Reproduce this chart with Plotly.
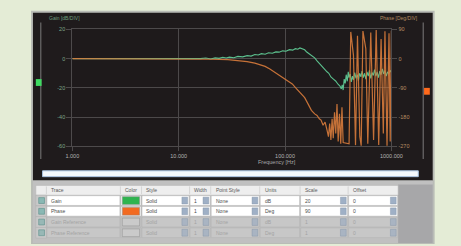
import plotly.graph_objects as go

# ---------------- data ----------------
gain_freq = [1000, 1500, 2000, 3000, 4000, 5000, 6000, 8000, 10000, 12000, 14000, 16000, 18000,
             20000, 22000, 24000, 26000, 28000, 30000, 33000, 36000, 40000, 44000, 48000, 52000,
             56000, 60000, 65000, 70000, 76000, 82000, 88000, 95000, 102000, 110000, 118000,
             125000, 132000, 138000, 145000, 153000, 160000, 170000, 181000, 190000, 200000,
             210000, 222000, 235000, 248000, 258000, 270000, 285000, 299000, 315000, 330000,
             338000, 345000, 352000, 360000, 368000, 376000, 385000, 393000, 400000, 410000,
             420000, 430000, 440000, 452000, 465000, 478000, 490000, 503000, 517000, 530000,
             545000, 560000, 575000, 590000, 606000, 622000, 640000, 658000, 676000, 695000,
             715000, 735000, 756000, 778000, 800000, 823000, 846000, 870000, 895000, 920000,
             946000, 972000, 1000000]
gain_db = [0, 0, 0.1, 0, 0, 0.1, 0, 0, 0.1, -0.2, 0.3, 0, 0.4,
           -0.3, 0.5, 0.2, 0.9, 0.4, 1.0, 0.6, 1.5, 1.2, 2.0, 1.7, 2.8,
           2.5, 3.4, 3.0, 4.0, 3.7, 4.6, 4.4, 5.3, 5.0, 6.1, 5.8,
           6.8, 6.4, 7.3, 6.6, 6.0, 4.5, 3.2, 1.3, 0.5, -1.5,
           -3.3, -5.0, -7.5, -9.0, -10.0, -12.5, -14.0, -15.3, -17.5, -19.0,
           -20.7, -18.0, -21.5, -14.0, -17.0, -11.0, -15.5, -9.0, -13.0, -10.5,
           -16.0, -12.0, -14.5, -9.5, -13.5, -11.0, -15.0, -10.0, -12.5, -8.5,
           -13.0, -10.0, -14.0, -9.0, -12.0, -8.0, -13.5, -9.5, -11.5, -7.5,
           -12.0, -9.0, -13.0, -8.5, -11.0, -7.0, -10.5, -8.0, -12.0, -9.0,
           -10.5, -8.0, -9.5]

phase_freq = [1000, 2000, 4000, 7000, 10000, 14000, 20000, 29000, 36000, 44000, 52000, 58000,
              65000, 72000, 82000, 92000, 100000, 108000, 117000, 126000, 135000, 145000,
              153000, 165000, 177000, 190000, 200000, 210000, 218000, 228000, 238000, 248000,
              256000, 263000, 270000, 277000, 284000, 292000, 300000, 308000, 316000, 325000,
              334000, 343000, 352000, 400000, 415000, 440000, 460000, 480000, 505000, 520000,
              540000, 575000, 600000, 640000, 680000, 720000, 760000, 800000, 840000, 870000,
              910000, 950000, 975000, 1000000]
phase_deg = [0, 0, 0, -0.5, -1, -1, -2, -3, -5, -9, -14, -18,
             -24, -32, -45, -55, -62, -70, -78, -90, -100, -112,
             -120, -140, -159, -170, -175, -185, -189, -205, -195, -219,
             -240, -200, -250, -185, -245, -165, -230, -140, -255, -170,
             -262, -150, -258, -262, 82, 10, -266, 70, -240, -268,
             85, 30, -262, 80, -250, 88, -266, 60, -230, 84,
             -268, 78, -255, 86]

x_tick_vals = [1000, 10000, 100000, 1000000]
x_tick_text = ["1.000", "10.000", "100.000", "1000.000"]
gain_ticks = [20, 0, -20, -40, -60]
phase_ticks = [90, 0, -90, -180, -270]

# table content
table_header = ["", "Trace", "Color", "Style", "Width", "Point Style", "Units", "Scale", "Offset"]
trace_names = ["Gain", "Phase", "Gain Reference", "Phase Reference"]
trace_colors = ["#2fb44f", "#f26a21", "#cacaca", "#cacaca"]
styles = ["Solid", "Solid", "Solid", "Solid"]
widths = ["1", "1", "1", "1"]
point_styles = ["None", "None", "None", "None"]
units = ["dB", "Deg", "dB", "Deg"]
scales = ["20", "90", "1", "1"]
offsets = ["0", "0", "0", "0"]
row_active = [True, True, False, False]

# ---------------- layout helpers ----------------
W, H = 461, 246
def px(x):
    return x / W
def py(y):
    return 1 - y / H

DARK = "#1f1b1c"
GRID = "#4d4a4b"
FONT = "Liberation Sans"

fig = go.Figure()
fig.add_trace(go.Scatter(x=gain_freq, y=gain_db, mode="lines", name="Gain",
                         line=dict(color="#5cc08e", width=1.1), yaxis="y"))
fig.add_trace(go.Scatter(x=phase_freq, y=phase_deg, mode="lines", name="Phase",
                         line=dict(color="#d87c3c", width=1.2), yaxis="y2", opacity=0.9))

shapes = []
annotations = []

def rect(x0, y0, x1, y1, fill, line=None, lw=0, layer="above"):
    shapes.append(dict(type="rect", xref="paper", yref="paper",
                       x0=px(x0), x1=px(x1), y0=py(y1), y1=py(y0),
                       fillcolor=fill, line=dict(color=line or fill, width=lw), layer=layer))

def text(x, y, s, color, size=5.5, anchor="left"):
    annotations.append(dict(xref="paper", yref="paper", x=px(x), y=py(y), text=s,
                            showarrow=False, xanchor=anchor, yanchor="middle",
                            font=dict(family=FONT, size=size, color=color)))

# outer panel frame and dark chart panel
rect(25, 8, 445, 247, "#b9bcb6", layer="below")
rect(27, 10, 443, 182, DARK, layer="below")
# side bars and markers
rect(34.5, 20, 35.8, 160, "#6a6868")
rect(432.5, 20, 433.8, 160, "#6a6868")
rect(30, 78, 36, 85, "#3fdc62")
rect(434, 87, 440, 94, "#ff6a1c")
# scrollbar
rect(37, 172, 428, 178, "#f4f8fc", line="#a9c2e0", lw=1)

# titles
text(42, 15, "Gain [dB/DIV]", "#6f9d7f", 5)
text(430, 15, "Phase [Deg/DIV]", "#b38a62", 5, anchor="right")
text(281, 163, "Frequency [Hz]", "#a8a8a8", 5.5, anchor="center")

# table area
rect(27, 182, 443, 246, "#c0c0c0")
rect(407, 186, 443, 246, "#a7a7a9")
col_edges = [30, 41, 118, 140, 190, 212, 263, 305, 355, 407]
row_edges = [187, 197, 208, 219, 230, 241]
rect(col_edges[0], row_edges[0], col_edges[-1], row_edges[1], "#eeeeee", line="#b5b5b5", lw=0.5)
for j, h in enumerate(table_header):
    if h:
        text(col_edges[j] + 3, (row_edges[0] + row_edges[1]) / 2, h, "#5a5a5a", 5)
for j in range(1, len(col_edges) - 1):
    shapes.append(dict(type="line", xref="paper", yref="paper",
                       x0=px(col_edges[j]), x1=px(col_edges[j]),
                       y0=py(row_edges[0] + 1), y1=py(row_edges[1] - 1),
                       line=dict(color="#c4c4c4", width=0.6)))

arrow_cols = [3, 4, 5, 7, 8]
for i in range(len(trace_names)):
    y0, y1 = row_edges[i + 1], row_edges[i + 2]
    ym = (y0 + y1) / 2
    active = row_active[i]
    cell_fill = "#ffffff" if active else "#c7c7c7"
    txt_col = "#4c4c4c" if active else "#a3a3a3"
    values = ["", trace_names[i], "", styles[i], widths[i], point_styles[i], units[i], scales[i], offsets[i]]
    # checkbox column
    rect(col_edges[0], y0, col_edges[1], y1, "#c9c9c9", line="#b0b0b0", lw=0.5)
    rect(33, ym - 3, 39, ym + 3, "#8ab8b4" if active else "#98b8b6", line="#5c918c", lw=0.6)
    for j in range(1, len(col_edges) - 1):
        rect(col_edges[j] + 0.5, y0 + 0.5, col_edges[j + 1] - 0.5, y1 - 0.5, cell_fill,
             line="#b3b3b3", lw=0.5)
        if values[j]:
            text(col_edges[j] + 3, ym, values[j], txt_col, 5)
        if j in arrow_cols:
            ax1 = col_edges[j + 1] - 2
            rect(ax1 - 6, y0 + 2, ax1, y1 - 2, "#9fb0c6" if active else "#a9b4c2", line="#7f8fa5", lw=0.4)
    # colour swatch
    rect(col_edges[2] + 2, y0 + 1.5, col_edges[3] - 2, y1 - 1.5, trace_colors[i], line="#8a8a8a", lw=0.5)

fig.update_layout(
    width=W, height=H, autosize=False,
    margin=dict(l=0, r=0, t=0, b=0),
    paper_bgcolor="#e4ecd6", plot_bgcolor=DARK,
    showlegend=False,
    font=dict(family=FONT),
    shapes=shapes, annotations=annotations,
    xaxis=dict(type="log", range=[3, 6], domain=[px(68), px(400)], anchor="y",
               tickvals=x_tick_vals, ticktext=x_tick_text,
               tickfont=dict(size=5.5, color="#b4b4b4"),
               showgrid=True, gridcolor=GRID, gridwidth=1,
               showline=True, linecolor=GRID, mirror=True,
               ticks="outside", ticklen=4, tickcolor=GRID, zeroline=False),
    yaxis=dict(range=[-60, 20], domain=[py(147), py(27)], anchor="x",
               tickvals=gain_ticks, ticktext=[str(v) for v in gain_ticks],
               tickfont=dict(size=5.5, color="#7da68a"),
               showgrid=True, gridcolor=GRID, gridwidth=1,
               showline=True, linecolor=GRID, mirror=True,
               ticks="outside", ticklen=5, tickcolor=GRID, zeroline=False),
    yaxis2=dict(range=[-270, 90], overlaying="y", side="right", anchor="x",
                tickvals=phase_ticks, ticktext=[str(v) for v in phase_ticks],
                tickfont=dict(size=5.5, color="#b98d62"),
                showgrid=False, zeroline=False,
                ticks="outside", ticklen=5, tickcolor=GRID),
)

fig.write_html("out.html", config={"displayModeBar": False},
               post_script="document.body.style.margin='0';document.body.style.overflow='hidden';")
